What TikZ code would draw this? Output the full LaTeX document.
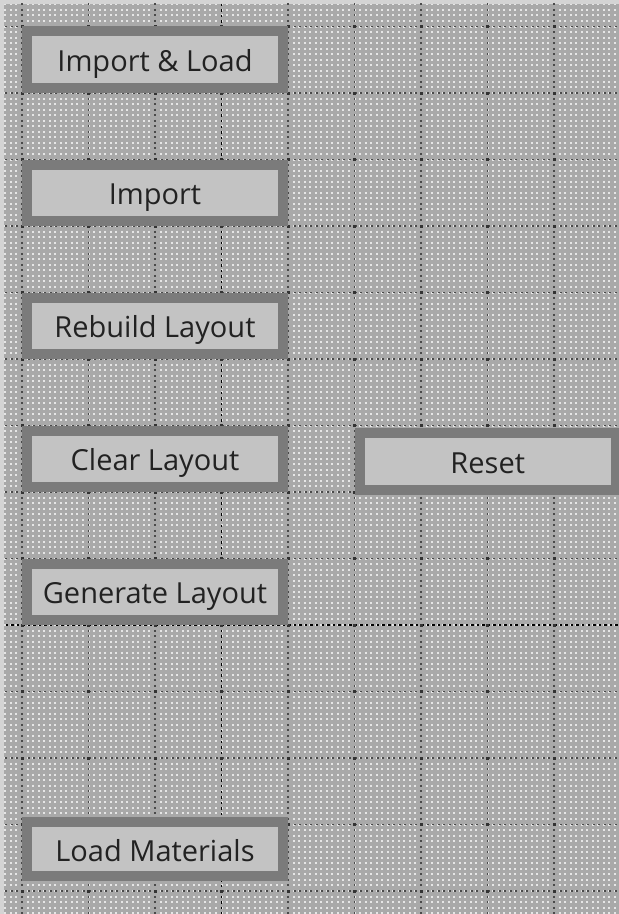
\documentclass[tikz,border=0pt]{standalone}
\usepackage{fontspec}
\setmainfont{Open Sans}
\definecolor{bgbase}{HTML}{A9A9A9}
\definecolor{bgdot}{HTML}{E6E6E6}
\definecolor{gridc}{HTML}{4A4A4A}
\definecolor{btnborder}{HTML}{7B7B7B}
\definecolor{btnfill}{HTML}{C3C3C3}
\definecolor{btntext}{HTML}{222222}
\definecolor{edgec}{HTML}{D4D4D4}
\tikzset{
  btn/.style={draw=btnborder, line width=10pt, fill=btnfill, text=btntext,
    font=\fontsize{29}{34}\selectfont, inner sep=0pt, minimum width=256pt,
    text height=24pt, text depth=0pt},
  dotcol/.style={draw=bgdot, line width=2pt, dash pattern=on 2pt off 3.5417pt},
  gridline/.style={draw=gridc, line width=1.2pt, dash pattern=on 2pt off 3.5417pt},
  majorline/.style={draw=black, line width=1.6pt, dash pattern=on 2.5pt off 3.0417pt}
}
\begin{document}
\begin{tikzpicture}[x=1pt,y=-1pt]
\useasboundingbox (0,0) rectangle (619,914);
% background
\fill[bgbase] (0,0) rectangle (619,914);
\foreach \i in {0,...,111} {
  \draw[dotcol] ({5.375+5.5417*\i},3.33) -- ({5.375+5.5417*\i},914);
}
\fill[edgec] (0,0) rectangle (619,4);
\fill[edgec] (0,0) rectangle (4,914);
% grid
\foreach \k in {0,1,2,4,5,6,7,8} {
  \draw[gridline] ({22+66.5*\k},3.33) -- ({22+66.5*\k},914);
}
\foreach \k in {0,...,8,10,11,12,13} {
  \draw[gridline] (5.375,{26.5+66.5*\k}) -- (619,{26.5+66.5*\k});
}
\draw[majorline] (221.5,3.58) -- (221.5,914);
\draw[majorline] (5.625,625) -- (619,625);
\foreach \k in {0,...,8} {
  \foreach \m in {0,...,13} {
    \fill[black!80] ({22+66.5*\k-1.5},{26.5+66.5*\m-1.5}) rectangle ++(3,3);
  }
}
% buttons
\node[btn, minimum height=57pt] (importload) at (155,59.5) {Import \& Load};
\node[btn, minimum height=56.5pt] (import) at (155,192.75) {Import};
\node[btn, minimum height=56.5pt] (rebuild) at (155,325.75) {Rebuild Layout};
\node[btn, minimum height=56.5pt] (clear) at (155,458.75) {Clear Layout};
\node[btn, minimum height=57pt] (reset) at (487.75,461.5) {Reset};
\node[btn, minimum height=56.5pt] (generate) at (155,591.75) {Generate Layout};
\node[btn, minimum height=54pt] (loadmat) at (155,849) {Load Materials};
\end{tikzpicture}
\end{document}
